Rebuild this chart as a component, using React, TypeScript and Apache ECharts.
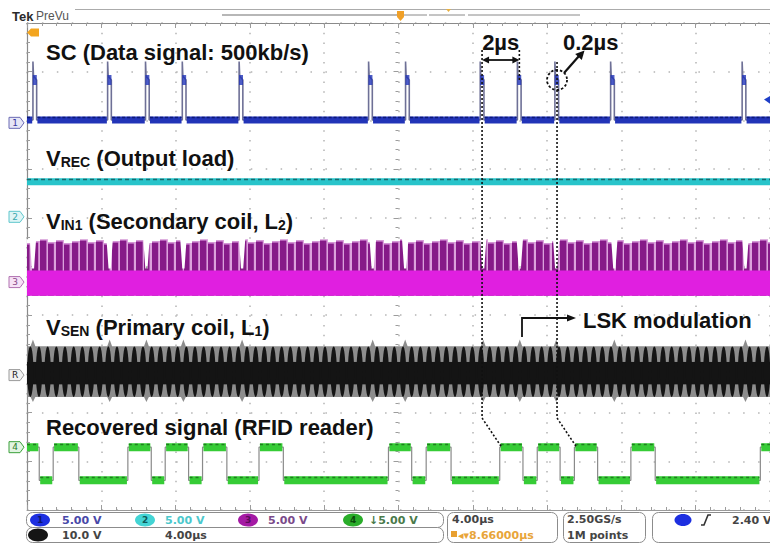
import React, { useEffect, useRef } from 'react';
import * as echarts from 'echarts';

// ---- screen layout: 10 x 10 division graticule ----
const W = 770;
const H = 545;
const GRID_LEFT = 27;
const GRID_TOP = 23;
const GRID_W = 746;
const GRID_H = 487;
const T_MIN = -20; // µs  (4.00 µs/div)
const T_MAX = 20;
const DIV_MIN = -5;
const DIV_MAX = 5;

// ---- channel settings: position (div from centre) and volts per division ----
const CH1 = { offset: 2.95, vpd: 5 };
const CH2 = { offset: 1.02, vpd: 5 };
const CH3 = { offset: -0.32, vpd: 5 };
const REF = { offset: -2.23, vpd: 10 };
const CH4 = { offset: -3.71, vpd: 5 };

// ---- SC : data signal (500 kb/s) ----
const scPulseTimes = [-19.68, -15.66, -13.62, -11.64, -8.58, -1.61, 0.38, 4.4, 6.4, 8.42, 11.42, 18.5];
const scBaseline = 0.3;
const scPeak = 6.3;
const scPulseLevel = 4.4;
const scPulseWidth = 0.2;
const triggerLevel = 2.4;

// ---- VREC : output load ----
const vrecLevel = 3.6;

// ---- VIN1 : secondary coil envelope ----
const vin1Top = 4.4;
const vin1CoreTop = 1.2;
const vin1Bottom = -1.4;
const vin1NotchLevel = 1.4;
const vin1NotchTimes = [-19.68, -15.55, -13.57, -11.58, -8.42, -1.39, 0.36, 4.56, 6.53, 8.49, 11.62, 18.68];

// ---- VSEN : primary coil envelope (reference, 10 V/div) ----
const vsenTop = 5.9;
const vsenBottom = -4.5;
const vsenWaistTop = 2.7;
const vsenWaistBottom = -1.9;
const vsenSpikeTop = 7.3;
const vsenSpikeBottom = -5.5;
const vsenSpikeTimes = [-19.68, -15.55, -13.57, -11.58, -8.42, -1.39, 0.36, 4.56, 6.53, 8.49, 11.62, 18.68];

// ---- recovered signal (RFID reader) ----
const recHigh = 0;
const recLow = -3.4;
const recStartsHigh = true;
const recEdgeTimes = [
  -19.34, -18.59, -17.21, -14.57, -13.31, -12.56, -11.3, -10.55, -9.24, -7.51, -6.2, -0.54,
  0.71, 1.49, 2.83, 5.45, 6.7, 7.47, 8.7, 9.47, 10.72, 12.51, 13.82, 19.48,
];

const LABEL_FONT = '"Liberation Sans", Arial, Helvetica, sans-serif';
const UI_FONT = '"DejaVu Sans", Verdana, sans-serif';

type Ch = { offset: number; vpd: number };
const toDiv = (ch: Ch, v: number) => ch.offset + v / ch.vpd;
const px = (t: number) => GRID_LEFT + ((t - T_MIN) / (T_MAX - T_MIN)) * GRID_W;
const pyDiv = (d: number) => GRID_TOP + ((DIV_MAX - d) / (DIV_MAX - DIV_MIN)) * GRID_H;
const py = (ch: Ch, v: number) => pyDiv(toDiv(ch, v));

// full SC trace (thin vectors between samples)
function scTrace(): (number | string)[][] {
  const b = toDiv(CH1, scBaseline);
  const pts: (number | string)[][] = [[T_MIN, b]];
  for (const t of scPulseTimes) {
    pts.push(
      [t, b],
      [t, toDiv(CH1, scPeak)],
      [t + 0.03, toDiv(CH1, scPulseLevel + 0.4)],
      [t + scPulseWidth, toDiv(CH1, scPulseLevel)],
      [t + scPulseWidth, b],
    );
  }
  pts.push([T_MAX, b]);
  return pts;
}

// thick baseline pieces between the pulses
function scBaseSegments(yOffset: number): (number | string)[][] {
  const b = toDiv(CH1, scBaseline + yOffset);
  const pts: (number | string)[][] = [];
  let start = T_MIN;
  for (const t of scPulseTimes) {
    if (t - 0.04 > start) pts.push([start, b], [t - 0.04, b], [t, '-']);
    start = t + scPulseWidth + 0.04;
  }
  pts.push([start, b], [T_MAX, b]);
  return pts;
}

function recLevel(high: boolean, dv = 0) {
  return toDiv(CH4, (high ? recHigh : recLow) + dv);
}

function recTrace(): number[][] {
  let high = recStartsHigh;
  const pts: number[][] = [[T_MIN, recLevel(high)]];
  for (const e of recEdgeTimes) {
    pts.push([e, recLevel(high)]);
    high = !high;
    pts.push([e, recLevel(high)]);
  }
  pts.push([T_MAX, recLevel(high)]);
  return pts;
}

function recSegments(dv: number): (number | string)[][] {
  let high = recStartsHigh;
  let start = T_MIN;
  const pts: (number | string)[][] = [];
  for (const e of recEdgeTimes) {
    pts.push([start, recLevel(high, dv)], [e - 0.05, recLevel(high, dv)], [e, '-']);
    high = !high;
    start = e + 0.05;
  }
  pts.push([start, recLevel(high, dv)], [T_MAX, recLevel(high, dv)]);
  return pts;
}

function vin1Outline(): number[][] {
  const top = toDiv(CH3, vin1Top);
  const notch = toDiv(CH3, vin1NotchLevel);
  const bot = toDiv(CH3, vin1Bottom);
  const pts: number[][] = [[T_MIN, top]];
  for (const t of vin1NotchTimes) {
    pts.push([t - 0.17, top], [t - 0.06, notch], [t + 0.06, notch], [t + 0.17, top]);
  }
  pts.push([T_MAX, top], [T_MAX, bot], [T_MIN, bot]);
  return pts;
}

function vin1CoreOutline(): number[][] {
  const top = toDiv(CH3, vin1CoreTop);
  const bot = toDiv(CH3, vin1Bottom);
  return [[T_MIN, top], [T_MAX, top], [T_MAX, bot], [T_MIN, bot]];
}

function vsenOutline(): number[][] {
  const top = toDiv(REF, vsenTop);
  const bot = toDiv(REF, vsenBottom);
  const pts: number[][] = [[T_MIN, top]];
  for (const t of vsenSpikeTimes) {
    pts.push([t - 0.13, top], [t, toDiv(REF, vsenSpikeTop)], [t + 0.13, top]);
  }
  pts.push([T_MAX, top], [T_MAX, bot]);
  for (const t of [...vsenSpikeTimes].reverse()) {
    pts.push([t + 0.13, bot], [t, toDiv(REF, vsenSpikeBottom)], [t - 0.13, bot]);
  }
  pts.push([T_MIN, bot]);
  return pts;
}

// intensity texture of the primary-coil carrier (beat spindles)
function spindlePattern() {
  const c = document.createElement('canvas');
  const tw = 26;
  c.width = tw;
  c.height = H;
  const g = c.getContext('2d')!;
  const yTop = py(REF, vsenTop);
  const yBot = py(REF, vsenBottom);
  const yW1 = py(REF, vsenWaistTop);
  const yW2 = py(REF, vsenWaistBottom);
  g.fillStyle = '#8d8d8d';
  g.fillRect(0, 0, tw, H);
  g.fillStyle = '#141414';
  g.fillRect(0, yW1, tw, yW2 - yW1);
  const period = tw / 3;
  for (let k = 0; k < 3; k++) {
    const cx = period * (k + 0.5);
    g.beginPath();
    g.ellipse(cx, (yTop + yBot) / 2, period * 0.36, (yBot - yTop) / 2, 0, 0, Math.PI * 2);
    g.fill();
  }
  return { image: c.toDataURL(), repeat: 'repeat', imageWidth: tw, imageHeight: H };
}

// vertical burst texture of the secondary-coil carrier: ragged column tops, thin bright gaps
const burstTopOffsets = [0, 3, 1, 4, 2];
const burstGapWidths = [1.4, 2.1, 1.2, 2.3, 1.6];
function burstPattern() {
  const c = document.createElement('canvas');
  const colW = 8;
  const tw = colW * burstTopOffsets.length;
  c.width = tw;
  c.height = H;
  const g = c.getContext('2d')!;
  const yTop = py(CH3, vin1Top);
  g.fillStyle = '#ffffff';
  g.fillRect(0, 0, tw, H);
  burstTopOffsets.forEach((off, k) => {
    const x0 = k * colW;
    const gap = burstGapWidths[k];
    g.fillStyle = '#c77ac9';
    g.fillRect(x0, yTop + off, colW, H);
    g.fillStyle = '#861a88';
    g.fillRect(x0, yTop + off + 1.5, colW - gap, H);
    g.fillStyle = '#dca2dc';
    g.fillRect(x0 + colW - gap, yTop + off, gap, H);
  });
  return { image: c.toDataURL(), repeat: 'repeat', imageWidth: tw, imageHeight: H };
}

const RICH = {
  m: { fontSize: 22, fontWeight: 'bold', fontFamily: LABEL_FONT, fill: '#111', verticalAlign: 'bottom' },
  s: { fontSize: 14, fontWeight: 'bold', fontFamily: LABEL_FONT, fill: '#111', verticalAlign: 'bottom' },
};

function label(x: number, y: number, text: string, align = 'left') {
  return {
    type: 'text',
    x,
    y,
    z: 30,
    style: { text, rich: RICH, align, verticalAlign: 'middle', fill: '#111' },
  };
}

function uiText(x: number, y: number, text: string, fill: string, size = 11, align = 'left') {
  return {
    type: 'text',
    x,
    y,
    z: 30,
    style: { text, fill, fontSize: size, fontWeight: 'bold', fontFamily: UI_FONT, align, verticalAlign: 'middle' },
  };
}

function chMarker(y: number, text: string, stroke: string, fill: string, color: string) {
  return {
    type: 'group',
    z: 30,
    children: [
      {
        type: 'polygon',
        shape: { points: [[9, y - 5.5], [20, y - 5.5], [24, y], [20, y + 5.5], [9, y + 5.5]] },
        style: { fill, stroke, lineWidth: 1 },
      },
      {
        type: 'text',
        x: 15,
        y,
        style: { text, fill: color, fontSize: 9, fontFamily: UI_FONT, align: 'center', verticalAlign: 'middle' },
      },
    ],
  };
}

function badge(cx: number, cy: number, fill: string, text: string, color: string, rx = 10) {
  return [
    { type: 'ellipse', z: 30, shape: { cx, cy, rx, ry: 6.5 }, style: { fill } },
    {
      type: 'text',
      x: cx,
      y: cy,
      z: 31,
      style: { text, fill: color, fontSize: 9, fontWeight: 'bold', fontFamily: UI_FONT, align: 'center', verticalAlign: 'middle' },
    },
  ];
}

function buildOption() {
  const magenta = burstPattern();
  const spindles = spindlePattern();

  const gridTick = { lineStyle: { color: '#9c9c9c', width: 1 } };

  // annotation anchors taken from the traces
  const xA = px(scPulseTimes[7]);
  const xA2 = px(scPulseTimes[8]);
  const xB = px(scPulseTimes[9]);
  const xEndA = px(recEdgeTimes[15]);
  const xEndB = px(recEdgeTimes[19]);
  const yRecHigh = py(CH4, recHigh);
  const yCircle = py(CH1, scPulseLevel);
  const yBend = 418;
  const dotted = { stroke: '#111', lineWidth: 1.6, lineDash: [2, 2], fill: 'none' };
  const solid = { stroke: '#111', lineWidth: 1.8, fill: 'none' };

  const graphic: any[] = [
    // header
    { type: 'text', x: 12, y: 16, z: 30, style: { text: 'Tek', fontSize: 13, fontWeight: 'bold', fontFamily: LABEL_FONT, fill: '#2a2a2a', verticalAlign: 'middle' } },
    { type: 'text', x: 36, y: 16, z: 30, style: { text: 'PreVu', fontSize: 12, fontFamily: LABEL_FONT, fill: '#555', verticalAlign: 'middle' } },
    { type: 'line', z: 30, shape: { x1: 75, y1: 9.5, x2: 770, y2: 9.5 }, style: { stroke: '#ababab', lineWidth: 1 } },
    { type: 'line', z: 30, shape: { x1: 222, y1: 15, x2: 397, y2: 15 }, style: { stroke: '#707070', lineWidth: 1.2 } },
    { type: 'line', z: 30, shape: { x1: 404, y1: 15, x2: 427, y2: 15 }, style: { stroke: '#8a8a8a', lineWidth: 1 } },
    { type: 'line', z: 30, shape: { x1: 429, y1: 15, x2: 465, y2: 15 }, style: { stroke: '#8a8a8a', lineWidth: 1 } },
    { type: 'line', z: 30, shape: { x1: 468, y1: 15, x2: 580, y2: 15 }, style: { stroke: '#8a8a8a', lineWidth: 1 } },
    { type: 'polygon', z: 30, shape: { points: [[397, 11], [404, 11], [404, 17], [400.5, 21], [397, 17]] }, style: { fill: '#f0a028' } },
    { type: 'polygon', z: 30, shape: { points: [[446, 9], [451, 9], [448.5, 12]] }, style: { fill: '#e8b040' } },
    { type: 'polygon', z: 30, shape: { points: [[27, 32.5], [31, 28.5], [39, 28.5], [39, 36.5], [31, 36.5]] }, style: { fill: '#f3a51f' } },
    // trigger level marker
    { type: 'polygon', z: 30, shape: { points: [[771, 95.5], [764, py(CH1, triggerLevel)], [771, 104.5]] }, style: { fill: '#1f3fc8' } },

    // channel ground markers
    chMarker(py(CH1, 0), '1', '#6a6ab4', '#e6e6f6', '#3a3aa0'),
    chMarker(py(CH2, 0), '2', '#5ec6cc', '#dff5f6', '#3aa8ae'),
    chMarker(py(CH3, 0), '3', '#b070b0', '#f6e2f6', '#8a4a8a'),
    chMarker(py(REF, 0), 'R', '#9a9a9a', '#f2f2f2', '#222'),
    chMarker(py(CH4, 0), '4', '#3aa03a', '#e2f4e2', '#2a7a2a'),

    // trace captions
    label(46, 52, '{m|SC (Data signal: 500kb/s)}'),
    label(46, 158, '{m|V}{s|REC}{m| (Output load)}'),
    label(46, 221, '{m|V}{s|IN1}{m| (Secondary coil, L}{s|2}{m|)}'),
    label(46, 327, '{m|V}{s|SEN}{m| (Primary coil, L}{s|1}{m|)}'),
    label(46, 427, '{m|Recovered signal (RFID reader)}'),
    label((xA + xA2) / 2, 42, '{m|2µs}', 'center'),
    label(563, 42, '{m|0.2µs}'),
    label(583, 320, '{m|LSK modulation}'),

    // 2 µs bit period
    { type: 'polyline', z: 25, shape: { points: [[xA, 50], [xA, yBend], [xEndA, yRecHigh]] }, style: dotted },
    { type: 'polyline', z: 25, shape: { points: [[xA2, 50], [xA2, 80]] }, style: dotted },
    { type: 'line', z: 26, shape: { x1: xA + 3, y1: 60, x2: xA2 - 3, y2: 60 }, style: solid },
    { type: 'polygon', z: 26, shape: { points: [[xA, 60], [xA + 7, 56.5], [xA + 7, 63.5]] }, style: { fill: '#111' } },
    { type: 'polygon', z: 26, shape: { points: [[xA2, 60], [xA2 - 7, 56.5], [xA2 - 7, 63.5]] }, style: { fill: '#111' } },
    // 0.2 µs pulse width
    { type: 'polyline', z: 25, shape: { points: [[xB, 62], [xB, yBend], [xEndB, yRecHigh]] }, style: dotted },
    { type: 'circle', z: 26, shape: { cx: xB, cy: yCircle, r: 10 }, style: { stroke: '#111', lineWidth: 1.8, lineDash: [2.5, 2], fill: 'none' } },
    { type: 'line', z: 26, shape: { x1: xB + 7, y1: yCircle - 7, x2: 579, y2: 56 }, style: { stroke: '#111', lineWidth: 2.2 } },
    { type: 'polygon', z: 26, shape: { points: [[584.5, 50.5], [581.8, 60], [575.2, 54]] }, style: { fill: '#111' } },
    // LSK modulation pointer
    { type: 'polyline', z: 26, shape: { points: [[522, 337], [522, 318], [568, 318]] }, style: solid },
    { type: 'polygon', z: 26, shape: { points: [[576, 318], [567, 314.5], [567, 321.5]] }, style: { fill: '#111' } },

    // status bar
    { type: 'rect', z: 29, shape: { x: 26.5, y: 512.5, width: 417, height: 15, r: 6 }, style: { fill: '#fff', stroke: '#8c8c8c', lineWidth: 1 } },
    { type: 'rect', z: 29, shape: { x: 26.5, y: 527.5, width: 417, height: 15, r: 6 }, style: { fill: '#fff', stroke: '#8c8c8c', lineWidth: 1 } },
    { type: 'rect', z: 29, shape: { x: 447.5, y: 512.5, width: 110, height: 30, r: 6 }, style: { fill: '#fff', stroke: '#8c8c8c', lineWidth: 1 } },
    { type: 'rect', z: 29, shape: { x: 563.5, y: 512.5, width: 82, height: 30, r: 6 }, style: { fill: '#fff', stroke: '#8c8c8c', lineWidth: 1 } },
    { type: 'rect', z: 29, shape: { x: 652.5, y: 512.5, width: 130, height: 30, r: 6 }, style: { fill: '#fff', stroke: '#8c8c8c', lineWidth: 1 } },
    ...badge(40, 520, '#1d2fe0', '1', '#0b1670'),
    uiText(62, 520, '5.00 V', '#4848a8'),
    ...badge(145, 520, '#43d4d4', '2', '#0d5a5a'),
    uiText(165, 520, '5.00 V', '#4cc8cc'),
    ...badge(248, 520, '#a41aa4', '3', '#5a0a5a'),
    uiText(268, 520, '5.00 V', '#7a4a8a'),
    ...badge(353, 520, '#2aad2a', '4', '#0a4a0a'),
    uiText(369, 520, '↓5.00 V', '#4a7a4a'),
    ...badge(38, 535, '#151515', '', '#fff'),
    uiText(62, 535, '10.0 V', '#444'),
    uiText(165, 535, '4.00µs', '#444'),
    uiText(452, 519.5, '4.00µs', '#444'),
    { type: 'rect', z: 30, shape: { x: 451, y: 531, width: 6, height: 6 }, style: { fill: '#e8a030' } },
    uiText(458, 535, '◂▾8.66000µs', '#e8a53a'),
    uiText(567, 519.5, '2.50GS/s', '#444'),
    uiText(567, 535, '1M points', '#444'),
    { type: 'ellipse', z: 30, shape: { cx: 683, cy: 520, rx: 8.5, ry: 6 }, style: { fill: '#1d2fe0' } },
    { type: 'polyline', z: 30, shape: { points: [[701, 525], [704, 525], [708, 515], [711, 515]] }, style: { stroke: '#333', lineWidth: 1.6, fill: 'none' } },
    uiText(732, 520, '2.40 V', '#444'),
  ];

  const hidden = { show: false };

  return {
    animation: false,
    backgroundColor: '#ffffff',
    grid: [
      { left: GRID_LEFT, top: GRID_TOP, width: GRID_W, height: GRID_H, show: false },
      { left: GRID_LEFT, top: GRID_TOP, width: GRID_W, height: GRID_H, show: false },
    ],
    xAxis: [
      {
        gridIndex: 0, type: 'value', min: T_MIN, max: T_MAX, interval: 4,
        axisLine: { show: false, onZero: true },
        axisTick: { show: true, length: 5, ...gridTick },
        minorTick: { show: true, splitNumber: 5, length: 3, ...gridTick },
        axisLabel: hidden,
        splitLine: { show: true, lineStyle: { color: '#b4b4b4', width: 1.5, type: [1.5, 8.24] } },
      },
      {
        gridIndex: 1, type: 'value', position: 'bottom', min: T_MIN, max: T_MAX, interval: 4,
        axisLine: { show: true, onZero: false, lineStyle: { color: '#9a9a9a', width: 1 } },
        axisTick: { show: true, inside: true, length: 5, ...gridTick },
        minorTick: { show: true, splitNumber: 5, length: 3, ...gridTick },
        axisLabel: hidden, splitLine: hidden,
      },
      {
        gridIndex: 1, type: 'value', position: 'top', min: T_MIN, max: T_MAX, interval: 4,
        axisLine: { show: true, onZero: false, lineStyle: { color: '#8a8a8a', width: 1.2 } },
        axisTick: { show: true, inside: true, length: 5, ...gridTick },
        minorTick: { show: true, splitNumber: 5, length: 3, ...gridTick },
        axisLabel: hidden, splitLine: hidden,
      },
    ],
    yAxis: [
      {
        gridIndex: 0, type: 'value', min: DIV_MIN, max: DIV_MAX, interval: 1,
        axisLine: { show: false, onZero: true },
        axisTick: { show: true, length: 5, ...gridTick },
        minorTick: { show: true, splitNumber: 5, length: 3, ...gridTick },
        axisLabel: hidden,
        splitLine: { show: true, lineStyle: { color: '#b4b4b4', width: 1.5, type: [1.5, 13.42] } },
      },
      {
        gridIndex: 1, type: 'value', position: 'left', min: DIV_MIN, max: DIV_MAX, interval: 1,
        axisLine: { show: true, onZero: false, lineStyle: { color: '#8a8a8a', width: 1.2 } },
        axisTick: { show: true, inside: true, length: 5, ...gridTick },
        minorTick: { show: true, splitNumber: 5, length: 3, ...gridTick },
        axisLabel: hidden, splitLine: hidden,
      },
      {
        gridIndex: 1, type: 'value', position: 'right', min: DIV_MIN, max: DIV_MAX, interval: 1,
        axisLine: { show: true, onZero: false, lineStyle: { color: '#8a8a8a', width: 1 } },
        axisTick: hidden, axisLabel: hidden, splitLine: hidden,
      },
    ],
    series: [
      // VIN1 – secondary coil carrier
      {
        type: 'custom', name: 'VIN1', xAxisIndex: 0, yAxisIndex: 0, silent: true, z: 2,
        data: [[0, 0]],
        renderItem: (_p: any, api: any) => ({
          type: 'group',
          children: [
            { type: 'polygon', shape: { points: vin1Outline().map((p) => api.coord(p)) }, style: { fill: magenta } },
            { type: 'polygon', shape: { points: vin1CoreOutline().map((p) => api.coord(p)) }, style: { fill: '#e01fe0' } },
          ],
        }),
      },
      // VSEN – primary coil carrier
      {
        type: 'custom', name: 'VSEN', xAxisIndex: 0, yAxisIndex: 0, silent: true, z: 2,
        data: [[0, 0]],
        renderItem: (_p: any, api: any) => ({
          type: 'polygon',
          shape: { points: vsenOutline().map((p) => api.coord(p)) },
          style: { fill: spindles },
        }),
      },
      // VREC – output load
      {
        type: 'line', name: 'VREC', symbol: 'none', silent: true, z: 3,
        data: [[T_MIN, toDiv(CH2, vrecLevel)], [T_MAX, toDiv(CH2, vrecLevel)]],
        lineStyle: { color: '#28c4ca', width: 7 },
      },
      {
        type: 'line', name: 'VREC noise', symbol: 'none', silent: true, z: 4,
        data: [[T_MIN, toDiv(CH2, vrecLevel + 0.22)], [T_MAX, toDiv(CH2, vrecLevel + 0.22)]],
        lineStyle: { color: '#196a6e', width: 1.5, type: [4, 3] },
      },
      // SC – data signal
      {
        type: 'line', name: 'SC edges', symbol: 'none', silent: true, z: 3,
        data: scTrace(),
        lineStyle: { color: '#6e7096', width: 1.6 },
      },
      {
        type: 'line', name: 'SC', symbol: 'none', silent: true, z: 4,
        data: scBaseSegments(0),
        lineStyle: { color: '#2234b8', width: 7 },
      },
      {
        type: 'line', name: 'SC noise', symbol: 'none', silent: true, z: 5,
        data: scBaseSegments(0.25),
        lineStyle: { color: '#0d1a78', width: 1.5, type: [3, 2] },
      },
      {
        type: 'scatter', name: 'SC top', silent: true, z: 5,
        symbol: 'rect', symbolSize: [4, 10],
        data: scPulseTimes.map((t) => [t + 0.1, toDiv(CH1, scPulseLevel)]),
        itemStyle: { color: '#2234b8' },
      },
      // recovered signal
      {
        type: 'line', name: 'Recovered edges', symbol: 'none', silent: true, z: 3,
        data: recTrace(),
        lineStyle: { color: '#8a8a8a', width: 1.2 },
      },
      {
        type: 'line', name: 'Recovered', symbol: 'none', silent: true, z: 4,
        data: recSegments(0),
        lineStyle: { color: '#36cc36', width: 8 },
      },
      {
        type: 'line', name: 'Recovered noise', symbol: 'none', silent: true, z: 5,
        data: recSegments(0.28),
        lineStyle: { color: '#1f7f1f', width: 1.5, type: [3, 3] },
      },
    ],
    graphic,
  };
}

export default function App() {
  const ref = useRef<HTMLDivElement>(null);
  useEffect(() => {
    const chart = echarts.init(ref.current!, null, { renderer: 'svg', width: W, height: H });
    chart.setOption(buildOption() as any);
    return () => chart.dispose();
  }, []);
  return (
    <div
      ref={ref}
      style={{ position: 'fixed', left: 0, top: 0, width: W, height: H, background: '#fff' }}
    />
  );
}
